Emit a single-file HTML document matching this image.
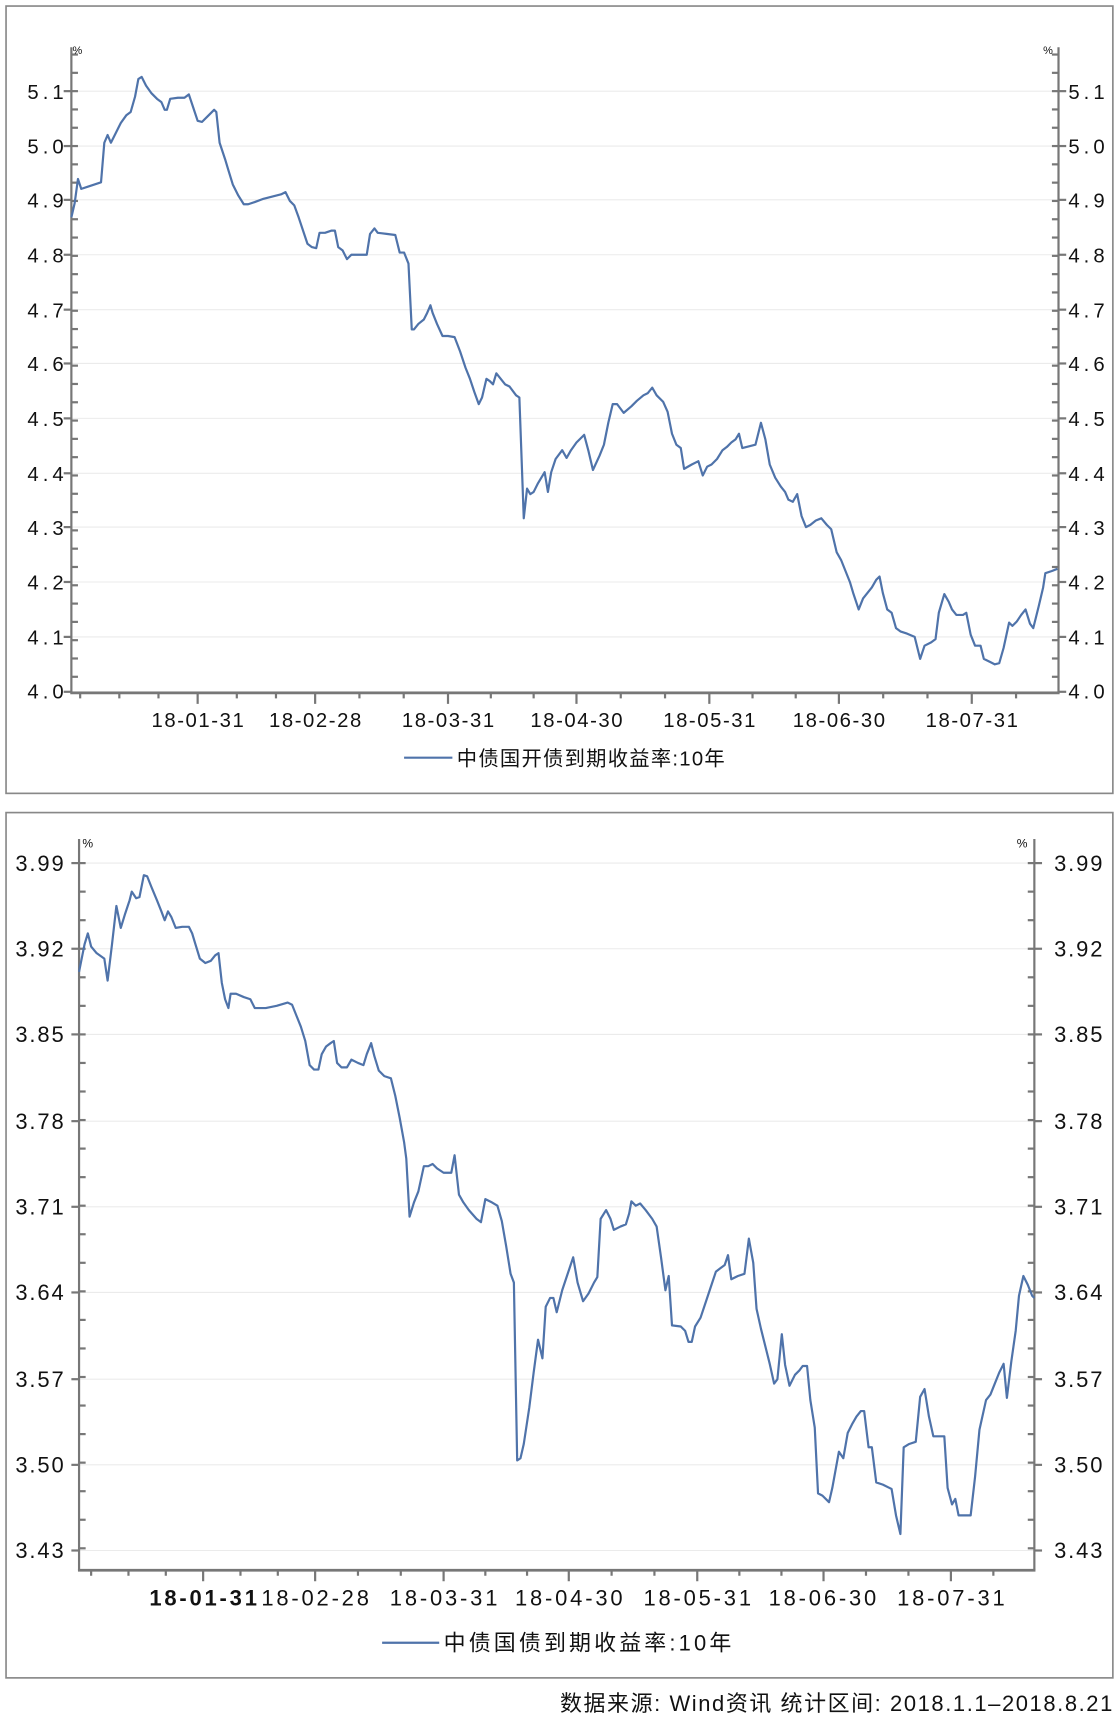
<!DOCTYPE html>
<html><head><meta charset="utf-8"><style>
html,body{margin:0;padding:0;background:#fff}
svg{display:block}
text{font-family:"Liberation Sans","Noto Sans CJK SC",sans-serif;fill:#111}
</style></head><body>
<svg id="s" width="1120" height="1724" viewBox="0 0 1020 1570" preserveAspectRatio="none" xmlns="http://www.w3.org/2000/svg">
<rect x="5.5" y="5.5" width="1008" height="717" fill="#fff" stroke="#888" stroke-width="1.5"/>
<rect x="5.5" y="740" width="1008" height="788" fill="#fff" stroke="#888" stroke-width="1.5"/>
<g id="g"></g>
<polyline fill="none" stroke="#4f73aa" stroke-width="2" stroke-linejoin="round" points="65,198 68,185 71,163 74,172 80,170 92,166 95,130 98,123 101,130 105,122 110,112 115,105 119,102 123,88 126,72 129,70 133,78 138,85 143,90 147,93 150,100 152,100 155,90 162,89 168,89 172,86 176,98 180,110 184,111 190,105 195,100 197,102 200,130 205,145 208,155 212,168 217,178 222,186 226,186 232,184 240,181 248,179 256,177 260,175 264,183 268,187 272,198 276,210 280,222 284,225 288,226 291,212 296,212 302,210 305,210 308,225 312,228 316,236 320,232 326,232 334,232 337,213 341,208 344,212 352,213 360,214 364,230 368,230 372,240 375,300 377,300 381,295 386,291 389,285 392,278 394,285 398,295 403,306 408,306 414,307 419,320 424,335 428,345 432,357 436,368 439,362 443,345 446,347 449,350 452,340 456,345 460,350 464,352 470,360 473,362 477,472 480,445 483,450 486,448 490,440 493,435 496,430 499,448 502,430 506,418 512,410 516,417 520,410 525,403 532,396 536,411 540,428 546,415 550,405 554,385 558,368 562,368 568,376 575,370 580,365 586,360 590,358 594,353 598,360 604,366 608,375 612,395 616,405 620,408 623,427 630,423 636,420 640,433 644,425 648,423 653,418 658,410 662,407 666,403 670,400 673,395 676,408 680,407 684,406 688,405 693,385 697,400 701,423 706,435 711,443 715,448 718,455 722,457 726,450 730,470 734,480 738,478 743,474 748,472 753,478 757,482 762,503 766,510 770,520 774,530 777,540 782,555 786,545 790,540 794,535 798,528 801,525 804,540 808,555 812,558 816,572 820,575 826,577 833,580 838,600 842,588 848,585 852,582 855,558 860,541 864,548 867,555 871,560 874,560 877,560 880,558 884,578 888,588 893,588 896,600 902,603 906,605 910,604 914,590 919,567 922,570 926,566 930,560 934,555 938,568 941,572 946,552 950,535 952,522 958,520 963,518"/>
<polyline fill="none" stroke="#4f73aa" stroke-width="2" stroke-linejoin="round" points="72,885 75,870 77,860 80,850 83,862 88,868 95,873 98,893 102,860 106,825 110,845 114,832 118,820 120,812 124,818 127,817 131,797 134,798 138,808 143,820 147,830 150,838 153,830 156,835 160,845 166,844 172,844 175,850 178,860 182,873 187,877 192,875 196,870 199,868 202,895 205,910 208,918 210,905 215,905 222,908 228,910 232,918 242,918 252,916 262,913 266,915 270,925 274,935 278,948 282,970 286,974 290,974 293,960 297,953 301,950 304,948 307,968 311,972 316,972 320,965 326,968 331,970 334,960 338,950 341,962 345,975 350,980 356,982 360,998 364,1018 368,1040 370,1055 373,1108 377,1095 381,1085 386,1062 390,1062 394,1060 398,1064 404,1068 411,1068 414,1052 418,1088 422,1095 427,1102 434,1110 438,1113 442,1092 448,1095 453,1098 457,1112 461,1135 465,1160 468,1168 471,1330 474,1328 477,1315 482,1282 486,1250 490,1220 494,1237 497,1190 501,1182 504,1182 507,1195 512,1175 517,1160 522,1145 526,1168 531,1185 536,1178 541,1168 544,1163 547,1110 552,1102 556,1110 559,1120 565,1117 570,1115 573,1105 575,1094 579,1098 583,1096 588,1102 594,1110 598,1117 602,1145 606,1175 609,1162 612,1207 620,1208 624,1212 627,1222 630,1222 633,1208 638,1200 643,1185 648,1170 652,1158 656,1155 660,1152 663,1143 666,1165 672,1162 678,1160 682,1128 686,1150 689,1192 693,1210 698,1230 701,1242 705,1260 708,1256 712,1215 715,1243 719,1262 724,1252 728,1248 731,1244 735,1244 738,1275 742,1300 745,1360 749,1362 755,1368 758,1355 764,1322 768,1328 772,1305 776,1297 780,1290 784,1285 787,1285 791,1318 794,1318 798,1350 804,1352 812,1356 816,1380 820,1397 823,1318 828,1315 834,1313 838,1272 842,1265 846,1290 850,1308 854,1308 860,1308 863,1355 867,1370 870,1365 873,1380 878,1380 884,1380 888,1345 892,1302 898,1275 902,1270 906,1260 910,1250 914,1242 917,1273 921,1240 925,1212 928,1180 932,1162 936,1170 940,1180 942,1182"/>
<!-- top labels -->
<g font-size="18.5" lengthAdjust="spacingAndGlyphs">
<text x="25" y="90" textLength="33">5.1</text><text x="25" y="140" textLength="33">5.0</text><text x="25" y="189" textLength="33">4.9</text><text x="25" y="239" textLength="33">4.8</text><text x="25" y="289" textLength="33">4.7</text><text x="25" y="338" textLength="33">4.6</text><text x="25" y="388" textLength="33">4.5</text><text x="25" y="438" textLength="33">4.4</text><text x="25" y="487" textLength="33">4.3</text><text x="25" y="537" textLength="33">4.2</text><text x="25" y="587" textLength="33">4.1</text><text x="25" y="636" textLength="33">4.0</text>
<text x="973" y="90" textLength="33">5.1</text><text x="973" y="140" textLength="33">5.0</text><text x="973" y="189" textLength="33">4.9</text><text x="973" y="239" textLength="33">4.8</text><text x="973" y="289" textLength="33">4.7</text><text x="973" y="338" textLength="33">4.6</text><text x="973" y="388" textLength="33">4.5</text><text x="973" y="438" textLength="33">4.4</text><text x="973" y="487" textLength="33">4.3</text><text x="973" y="537" textLength="33">4.2</text><text x="973" y="587" textLength="33">4.1</text><text x="973" y="636" textLength="33">4.0</text>
<text x="138" y="662" textLength="84">18-01-31</text><text x="245" y="662" textLength="84">18-02-28</text><text x="366" y="662" textLength="84">18-03-31</text><text x="483" y="662" textLength="84">18-04-30</text><text x="604" y="662" textLength="84">18-05-31</text><text x="722" y="662" textLength="84">18-06-30</text><text x="843" y="662" textLength="84">18-07-31</text>
<text x="416" y="697" textLength="244">中债国开债到期收益率:10年</text>
</g>
<line x1="368" y1="690" x2="412" y2="690" stroke="#4f73aa" stroke-width="2"/>
<text x="66" y="49" font-size="10">%</text><text x="950" y="49" font-size="10">%</text>
<!-- bottom labels -->
<g font-size="20" lengthAdjust="spacingAndGlyphs">
<text x="14" y="793" textLength="44">3.99</text><text x="14" y="871" textLength="44">3.92</text><text x="14" y="949" textLength="44">3.85</text><text x="14" y="1028" textLength="44">3.78</text><text x="14" y="1106" textLength="44">3.71</text><text x="14" y="1184" textLength="44">3.64</text><text x="14" y="1263" textLength="44">3.57</text><text x="14" y="1341" textLength="44">3.50</text><text x="14" y="1419" textLength="44">3.43</text>
<text x="960" y="793" textLength="44">3.99</text><text x="960" y="871" textLength="44">3.92</text><text x="960" y="949" textLength="44">3.85</text><text x="960" y="1028" textLength="44">3.78</text><text x="960" y="1106" textLength="44">3.71</text><text x="960" y="1184" textLength="44">3.64</text><text x="960" y="1263" textLength="44">3.57</text><text x="960" y="1341" textLength="44">3.50</text><text x="960" y="1419" textLength="44">3.43</text>
<text x="136" y="1462" textLength="98" font-weight="bold">18-01-31</text><text x="238" y="1462" textLength="98">18-02-28</text><text x="355" y="1462" textLength="98">18-03-31</text><text x="469" y="1462" textLength="98">18-04-30</text><text x="586" y="1462" textLength="98">18-05-31</text><text x="700" y="1462" textLength="98">18-06-30</text><text x="817" y="1462" textLength="98">18-07-31</text>
<text x="404" y="1503" textLength="262">中债国债到期收益率:10年</text>
<text x="510" y="1558" textLength="503">数据来源: Wind资讯  统计区间: 2018.1.1–2018.8.21</text>
</g>
<line x1="348" y1="1496" x2="400" y2="1496" stroke="#4f73aa" stroke-width="2"/>
<text x="75" y="772" font-size="11">%</text><text x="926" y="772" font-size="11">%</text>
</svg>
<script>
var g=document.getElementById('g'),h='';
function L(a,b,c,d,col,w){h+='<line x1="'+a+'" y1="'+b+'" x2="'+c+'" y2="'+d+'" stroke="'+col+'" stroke-width="'+w+'"/>';}
function chart(xl,xr,ytop,ys,ax,majors){
 var step=ys[1]-ys[0];
 ys.forEach(function(y){L(xl,y,xr,y,'#ebebeb',1);L(xl-7,y,xl,y,'#777',2);L(xr,y,xr+7,y,'#777',2);});
 var last=ys[ys.length-1];
 for(var y=ys[0]-step;y<=last+0.1;y+=step/3){ if(y<ytop)continue; L(xl,y,xl+6,y,'#777',2);L(xr-6,y,xr,y,'#777',2);}
 L(xl,ytop,xl,ax,'#777',2);L(xr,ytop,xr,ax,'#777',2);L(xl-1,ax,xr+1,ax,'#777',2.5);
 var d=(majors[1]-majors[0])/3;
 for(var x=majors[0]-d;x>xl+5;x-=d)L(x,ax,x,ax+5,'#777',2);
 for(var i=0;i<majors.length;i++){L(majors[i],ax,majors[i],ax+10,'#777',2);
  var nx=i<majors.length-1?majors[i+1]:majors[i]+(majors[i]-majors[i-1]);var dd=(nx-majors[i])/3;
  for(var k=1;k<3;k++){var xx=majors[i]+k*dd;if(xx<xr-3)L(xx,ax,xx,ax+5,'#777',2);}}
}
chart(65,964,43,[83,133,182,232,282,331,381,431,480,530,580,630],631,[180,287,408,525,646,764,885]);
chart(72,942,764,[786,864,942,1021,1099,1177,1256,1334,1412],1430,[185,287,404,518,635,750,866]);
g.innerHTML=h;
</script>
</body></html>
